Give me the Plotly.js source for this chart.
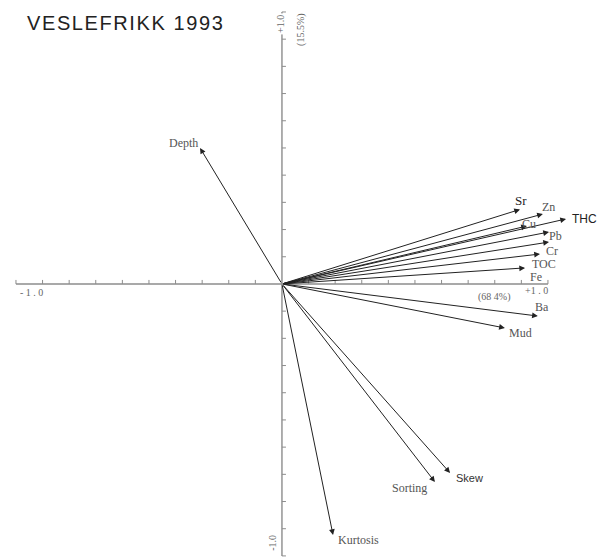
<!DOCTYPE html>
<html>
<head>
<meta charset="utf-8">
<script src="https://cdn.plot.ly/plotly-3.0.1.min.js"></script>
<style>
  html, body { margin: 0; padding: 0; background: #fff; }
  #chart { width: 607px; height: 560px; }
</style>
</head>
<body>
<div id="chart"></div>
<script>
// PCA loadings, Veslefrikk 1993: PC1 (68.4 %) vs PC2 (15.5 %)
const variables = ['Sr', 'Zn', 'THC', 'Cu', 'Pb', 'Cr', 'TOC', 'Fe', 'Ba', 'Mud', 'Depth', 'Skew', 'Sorting', 'Kurtosis'];
const pc1 = [0.895, 0.981, 1.068, 0.921, 1.004, 1.004, 0.970, 0.914, 0.962, 0.838, -0.308, 0.632, 0.575, 0.192];
const pc2 = [0.274, 0.257, 0.239, 0.213, 0.191, 0.154, 0.110, 0.059, -0.118, -0.162, 0.500, -0.695, -0.728, -0.923];
const axisTicks = [-1.0, -0.9, -0.8, -0.7, -0.6, -0.5, -0.4, -0.3, -0.2, -0.1, 0.1, 0.2, 0.3, 0.4, 0.5, 0.6, 0.7, 0.8, 0.9, 1.0];
const pc1Label = '(68 4%)';
const pc2Label = '(15.5%)';
const chartTitle = 'VESLEFRIKK 1993';

// label placement next to each arrow tip (pixel shifts)
const labelPlace = {
  Sr:       { dx: 1,   dy: 9,  size: 13, color: '#222' },
  Zn:       { dx: 6,   dy: 7 },
  THC:      { dx: 18,  dy: 0,  font: 'Liberation Sans', size: 12, color: '#222' },
  Cu:       { dx: 2,   dy: 2 },
  Pb:       { dx: 6,   dy: -4 },
  Cr:       { dx: 3,   dy: -9 },
  TOC:      { dx: 4,   dy: -10 },
  Fe:       { dx: 11,  dy: -9 },
  Ba:       { dx: 4,   dy: 9 },
  Mud:      { dx: 16,  dy: -5 },
  Depth:    { dx: -17, dy: 5 },
  Skew:     { dx: 19,  dy: -5, font: 'Liberation Sans', size: 11, color: '#333' },
  Sorting:  { dx: -25, dy: -6 },
  Kurtosis: { dx: 25,  dy: -5 }
};

const axisColor = '#8c8c8c';
const arrowColor = '#222';
const serif = 'Liberation Serif, Times New Roman, serif';

const traces = [
  { x: [-1, 1], y: [0, 0], mode: 'lines', line: { color: axisColor, width: 1.4 }, hoverinfo: 'skip', showlegend: false },
  { x: [0, 0], y: [-1, 1], mode: 'lines', line: { color: axisColor, width: 1.4 }, hoverinfo: 'skip', showlegend: false }
];

const shapes = [];
axisTicks.forEach(t => {
  shapes.push({ type: 'line', xref: 'x', yref: 'y', x0: t, x1: t,
    ysizemode: 'pixel', yanchor: 0, y0: 0, y1: 4, line: { color: axisColor, width: 1 } });
  shapes.push({ type: 'line', xref: 'x', yref: 'y', y0: t, y1: t,
    xsizemode: 'pixel', xanchor: 0, x0: 0, x1: 4, line: { color: axisColor, width: 1 } });
});

const annotations = [];
variables.forEach((v, i) => {
  annotations.push({
    x: pc1[i], y: pc2[i], xref: 'x', yref: 'y',
    ax: 0, ay: 0, axref: 'x', ayref: 'y',
    text: '', showarrow: true, arrowhead: 2, arrowsize: 1.15, arrowwidth: 1,
    arrowcolor: arrowColor
  });
  const p = labelPlace[v];
  annotations.push({
    x: pc1[i], y: pc2[i], xref: 'x', yref: 'y', showarrow: false,
    text: v, xshift: p.dx, yshift: p.dy,
    font: { family: p.font || serif, size: p.size || 12, color: p.color || '#555' }
  });
});

const axisTextFont = { family: serif, size: 10, color: '#666' };
annotations.push(
  { x: -1, y: 0, xref: 'x', yref: 'y', showarrow: false, text: '- 1 . 0', xanchor: 'left', xshift: 2, yshift: -9, font: axisTextFont },
  { x: 1, y: 0, xref: 'x', yref: 'y', showarrow: false, text: '+1 . 0', xanchor: 'right', xshift: 2, yshift: -7, font: axisTextFont },
  { x: 0.8, y: 0, xref: 'x', yref: 'y', showarrow: false, text: pc1Label, xshift: 0, yshift: -13, font: axisTextFont },
  { x: 0, y: 1, xref: 'x', yref: 'y', showarrow: false, text: '+1.0', textangle: -90, xshift: -1, yshift: -12, bgcolor: '#fff', font: axisTextFont },
  { x: 0, y: 1, xref: 'x', yref: 'y', showarrow: false, text: pc2Label, textangle: -90, xshift: 19, yshift: -17, font: axisTextFont },
  { x: 0, y: -1, xref: 'x', yref: 'y', showarrow: false, text: '-1.0', textangle: -90, xshift: -9, yshift: 13, font: axisTextFont },
  { x: 0, y: 1, xref: 'paper', yref: 'paper', showarrow: false,
    text: '<span style="letter-spacing:1.6px">' + chartTitle + '</span>',
    xanchor: 'left', yanchor: 'top', xshift: 25, yshift: -10,
    font: { family: 'Liberation Sans, Arial, sans-serif', size: 20, color: '#222' } }
);

const layout = {
  width: 607, height: 560,
  margin: { l: 0, r: 0, t: 0, b: 0 },
  paper_bgcolor: '#fff', plot_bgcolor: '#fff',
  xaxis: { range: [-1.060, 1.222], visible: false, fixedrange: true },
  yaxis: { range: [-1.015, 1.044], visible: false, fixedrange: true },
  shapes: shapes,
  annotations: annotations,
  showlegend: false
};

Plotly.newPlot('chart', traces, layout, { staticPlot: true, displayModeBar: false });
</script>
</body>
</html>
